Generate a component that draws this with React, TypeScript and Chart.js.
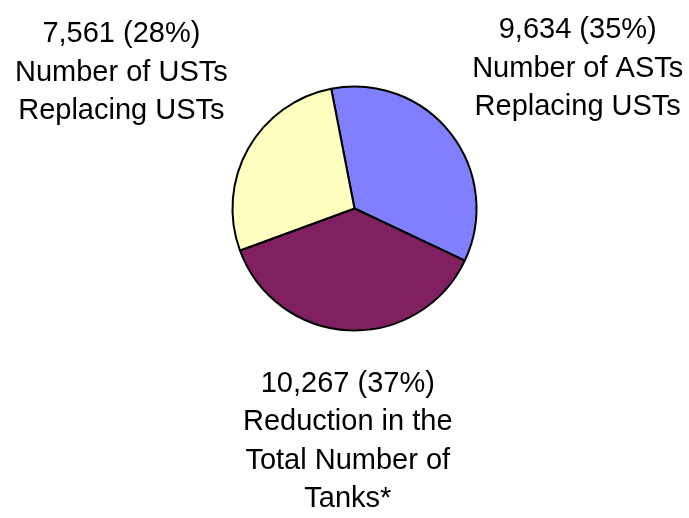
import React, { useEffect, useRef } from "react";
import { Chart, registerables } from "chart.js";

Chart.register(...registerables);

const categories = [
  ["Number of ASTs", "Replacing USTs"],
  ["Reduction in the", "Total Number of", "Tanks*"],
  ["Number of USTs", "Replacing USTs"],
];
const values = [9634, 10267, 7561];
const colors = ["#8080FF", "#802060", "#FFFFC0"];

const FONT_SIZE = 29;
const LINE_H = 38.5;
// small per-label nudges (px) to mimic the original label placement
const LABEL_NUDGE = [
  [0, 7],
  [0, 5],
  [3, -7],
];

const labelPlugin = {
  id: "outsideLabels",
  afterDraw(chart: any) {
    const ctx = chart.ctx;
    const meta = chart.getDatasetMeta(0);
    const data = chart.data.datasets[0].data as number[];
    const total = data.reduce((a, b) => a + b, 0);
    ctx.save();
    ctx.font = `${FONT_SIZE}px "Liberation Sans", Arial, sans-serif`;
    ctx.fillStyle = "#000";
    ctx.textAlign = "center";
    ctx.textBaseline = "alphabetic";
    meta.data.forEach((arc: any, i: number) => {
      const { x, y, startAngle, endAngle, outerRadius } = arc.getProps(
        ["x", "y", "startAngle", "endAngle", "outerRadius"],
        true
      );
      const mid = (startAngle + endAngle) / 2;
      const dx = Math.cos(mid);
      const dy = Math.sin(mid);
      const r = outerRadius + 27;
      const px = x + dx * r;
      const py = y + dy * r;
      const v = data[i];
      const lines = [
        `${v.toLocaleString("en-US")} (${Math.round((v / total) * 100)}%)`,
        ...categories[i],
      ];
      const w = Math.max(...lines.map((l) => ctx.measureText(l).width));
      const h = lines.length * LINE_H;
      let left = px - w / 2;
      if (dx > 0.3) left = px;
      else if (dx < -0.3) left = px - w;
      let top = py - h / 2;
      if (dy > 0.3) top = py;
      else if (dy < -0.3) top = py - h;
      const [nx, ny] = LABEL_NUDGE[i];
      const cx = left + w / 2 + nx;
      lines.forEach((l, j) => {
        ctx.fillText(l, cx, top + ny + j * LINE_H + 29.5);
      });
    });
    ctx.restore();
  },
};

export default function App() {
  const ref = useRef<HTMLCanvasElement>(null);
  useEffect(() => {
    if (!ref.current) return;
    const chart = new Chart(ref.current, {
      type: "pie",
      data: {
        labels: categories.map((c) => c.join(" ")),
        datasets: [
          {
            data: values,
            backgroundColor: colors,
            borderColor: "#000",
            borderWidth: 2,
          },
        ],
      },
      options: {
        responsive: false,
        animation: false,
        rotation: -11,
        layout: {
          padding: { left: 231.5, right: 211.5, top: 85.5, bottom: 186.5 },
        },
        plugins: {
          legend: { display: false },
          tooltip: { enabled: false },
          title: { display: false },
        },
      },
      plugins: [labelPlugin],
    });
    return () => chart.destroy();
  }, []);
  return (
    <div style={{ position: "fixed", left: 0, top: 0, width: 689, height: 518, background: "#fff" }}>
      <canvas ref={ref} width={689} height={518} style={{ width: 689, height: 518 }} />
    </div>
  );
}
